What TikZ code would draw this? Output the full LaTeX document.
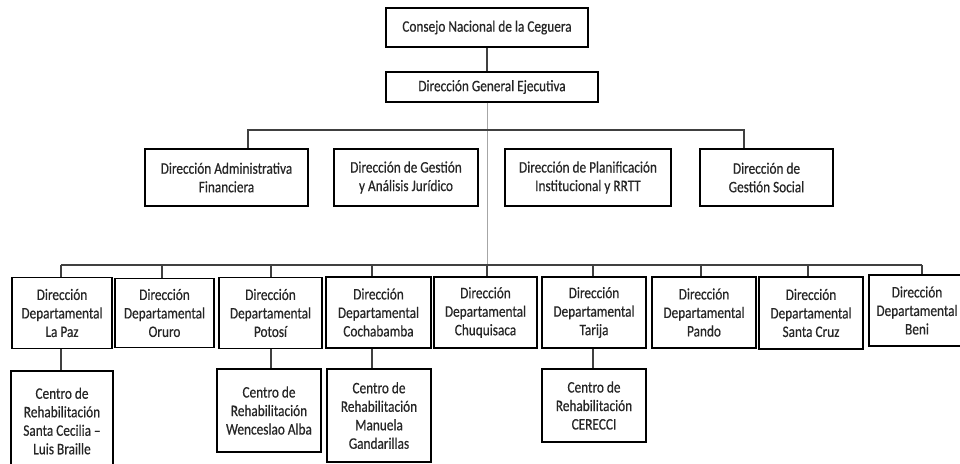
\documentclass[tikz,border=0pt]{standalone}
\usepackage{fontspec}
\setmainfont{Carlito}[FakeStretch=0.83,FakeBold=0.5]
\begin{document}
\begin{tikzpicture}[x=1pt,y=-1pt,
 box/.style={draw=black, line width=1.1pt, rectangle, inner sep=0pt, align=center,
   font=\fontsize{16}{18.5}\selectfont, text=black!85},
 conn/.style={draw=black!75, line width=1.1pt},
 mainline/.style={draw=black!35, line width=0.9pt}]
\path[use as bounding box] (0,0) rectangle (960,463);
\clip (0,0) rectangle (960,463);
% level 1
\node[box, minimum width=202pt, minimum height=39pt] (consejo) at (487,27.5) {Consejo Nacional de la Ceguera};
\node[box, minimum width=212pt, minimum height=30pt] (dge) at (492,87) {Dirección General Ejecutiva};
% level 2
\node[box, minimum width=163pt, minimum height=57pt] (admin) at (226.5,177.5) {Dirección Administrativa\\Financiera};
\node[box, minimum width=144pt, minimum height=57pt] (jur) at (406,177.5) {Dirección de Gestión\\y Análisis Jurídico};
\node[box, minimum width=166pt, minimum height=57pt] (plan) at (588,177.5) {Dirección de Planificación\\Institucional y RRTT};
\node[box, minimum width=133pt, minimum height=57pt] (social) at (766.5,177.5) {Dirección de\\Gestión Social};
% level 3
\node[box, minimum width=100pt, minimum height=71pt] (lapaz) at (62,313) {Dirección\\Departamental\\La Paz};
\node[box, minimum width=99pt, minimum height=69pt] (oruro) at (164.5,313) {Dirección\\Departamental\\Oruro};
\node[box, minimum width=103pt, minimum height=71pt] (potosi) at (270.5,313) {Dirección\\Departamental\\Potosí};
\node[box, minimum width=105pt, minimum height=71pt] (cocha) at (378.5,312.5) {Dirección\\Departamental\\Cochabamba};
\node[box, minimum width=103pt, minimum height=71pt] (chuqui) at (485.5,312.5) {Dirección\\Departamental\\Chuquisaca};
\node[box, minimum width=104pt, minimum height=71pt] (tarija) at (594,312.5) {Dirección\\Departamental\\Tarija};
\node[box, minimum width=104pt, minimum height=71pt] (pando) at (704,312.5) {Dirección\\Departamental\\Pando};
\node[box, minimum width=104pt, minimum height=72pt] (scruz) at (811,313) {Dirección\\Departamental\\Santa Cruz};
\node[box, minimum width=96pt, minimum height=71pt] (beni) at (917,310.5) {Dirección\\Departamental\\Beni};
% level 4
\node[box, minimum width=102pt, minimum height=100pt] (cecilia) at (62,421) {Centro de\\Rehabilitación\\Santa Cecilia --\\Luis Braille};
\node[box, minimum width=104pt, minimum height=83pt] (wenc) at (269,410.5) {Centro de\\Rehabilitación\\Wenceslao Alba};
\node[box, minimum width=104pt, minimum height=93pt] (manu) at (379,415.5) {Centro de\\Rehabilitación\\Manuela\\Gandarillas};
\node[box, minimum width=104pt, minimum height=73pt] (cerecci) at (594,405.5) {Centro de\\Rehabilitación\\CERECCI};
% connectors level 1-2
\draw[conn] (consejo.south) -- (consejo.south |- dge.north);
\coordinate (m) at (487,265);
\draw[mainline] (dge.south -| m) -- (m);
\coordinate (h2l) at (248,130);
\coordinate (h2r) at (744,130);
\draw[conn] (admin.north -| h2l) -- (h2l) -- (h2r) -- (social.north -| h2r);
% level 3 bus
\coordinate (h3l) at (61,265);
\coordinate (h3r) at (922,265);
\draw[conn] (h3l) -- (h3r);
\foreach \n/\x in {lapaz/61, oruro/162, potosi/271, cocha/372, chuqui/487, tarija/593, pando/701, scruz/808, beni/922}{
  \coordinate (t\n) at (\x,265);
  \draw[conn] (t\n) -- (\n.north -| t\n);
}
% level 4
\draw[conn] (lapaz.south -| tlapaz) -- (cecilia.north -| tlapaz);
\draw[conn] (potosi.south -| tpotosi) -- (wenc.north -| tpotosi);
\draw[conn] (cocha.south -| tcocha) -- (manu.north -| tcocha);
\draw[conn] (tarija.south -| ttarija) -- (cerecci.north -| ttarija);
\end{tikzpicture}
\end{document}
